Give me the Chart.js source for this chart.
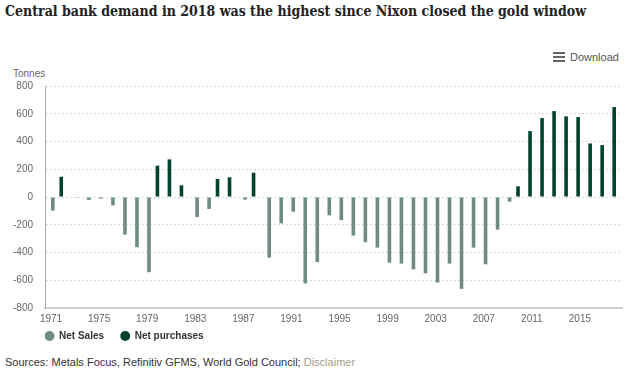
<!DOCTYPE html>
<html>
<head>
<meta charset="utf-8">
<script src="https://cdn.jsdelivr.net/npm/chart.js@4.4.1/dist/chart.umd.min.js"></script>
<style>
  body { margin: 0; background: #fff; width: 640px; height: 375px; position: relative; overflow: hidden; font-family: "Liberation Sans", Arial, sans-serif; }
  #title { position: absolute; left: 5px; top: 3px; font-family: "DejaVu Serif Condensed", "DejaVu Serif", serif; font-stretch: condensed; font-weight: bold; font-size: 14px; color: #222; white-space: nowrap; }
  #download { position: absolute; left: 553px; top: 51px; font-size: 11px; color: #555; }
  #download .ico { display: inline-block; width: 12px; height: 10px; vertical-align: -1px; margin-right: 5px;
    background: linear-gradient(#666 0 2px, transparent 2px 4px, #666 4px 6px, transparent 6px 8px, #666 8px 10px); }
  #unit { position: absolute; left: 13px; top: 68px; font-size: 10px; color: #666; }
  #wrap { position: absolute; left: 0; top: 62px; width: 640px; height: 291px; }
  #src { position: absolute; left: 5px; top: 356px; font-size: 11px; color: #333; }
  #src span { color: #a39d8c; }
</style>
</head>
<body>
<div id="title">Central bank demand in 2018 was the highest since Nixon closed the gold window</div>
<div id="download"><span class="ico"></span>Download</div>
<div id="unit">Tonnes</div>
<div id="wrap"><canvas id="gold"></canvas></div>
<div id="src">Sources: Metals Focus, Refinitiv GFMS, World Gold Council; <span>Disclaimer</span></div>
<script>
const years = [];
for (let y = 1971; y <= 2018; y++) years.push(String(y));

// tonnes, negative = net sales
const netSales = [
  -98, null, -5, -22, -12, -60, -271, -362, -542, null,
  null, null, -144, -86, null, null, -19, null, -437, -190,
  -106, -623, -468, -132, -166, -278, -326, -365, -473, -480,
  -521, -550, -617, -480, -662, -365, -485, -235, -34, null,
  null, null, null, null, null, null, null, null
];
const netPurchases = [
  null, 146, null, null, null, null, null, null, null, 226,
  271, 84, null, null, 130, 142, null, 175, null, null,
  null, null, null, null, null, null, null, null, null, null,
  null, null, null, null, null, null, null, null, null, 77,
  475, 569, 619, 581, 576, 386, 374, 648
];
const yTicks = [-800, 800, 200];

const context = document.getElementById('gold');

const config = {
  type: 'bar',
  data: {
    labels: years,
    datasets: [
      {
        label: 'Net purchases',
        data: netPurchases,
        backgroundColor: '#00432a',
        categoryPercentage: 0.6,
        barPercentage: 1
      },
      {
        label: 'Net Sales',
        data: netSales,
        backgroundColor: '#6f8c7e',
        categoryPercentage: 0.6,
        barPercentage: 1
      }
    ]
  },
  options: {
    responsive: true,
    maintainAspectRatio: false,
    animation: false,
    layout: { padding: { left: 1, right: 18, top: 24, bottom: 2 } },
    plugins: {
      tooltip: { enabled: false },
      legend: {
        position: 'bottom',
        align: 'start',
        fullSize: false,
        labels: {
          usePointStyle: true,
          pointStyle: 'circle',
          boxWidth: 9,
          boxHeight: 7,
          padding: 0,
          color: '#333',
          font: { family: 'Liberation Sans', size: 10, weight: 'bold' },
          // trailing spaces give the gap between the two items
          generateLabels: chart => Chart.defaults.plugins.legend.labels.generateLabels(chart)
            .map(item => Object.assign(item, { text: item.text + '      ' })),
          sort: (a, b) => b.datasetIndex - a.datasetIndex
        }
      }
    },
    scales: {
      x: {
        grid: { display: false, drawTicks: false },
        border: { display: true, color: '#cfcfcf', width: 2 },
        ticks: {
          autoSkip: false,
          maxRotation: 0,
          padding: 7,
          color: '#666',
          font: { family: 'Liberation Sans', size: 10, lineHeight: 0.9 },
          callback: function (v, i) { return i % 4 === 0 ? years[i] : ''; }
        }
      },
      y: {
        min: yTicks[0],
        max: yTicks[1],
        ticks: {
          stepSize: yTicks[2],
          color: '#666',
          padding: 12,
          font: { family: 'Liberation Sans', size: 10 }
        },
        grid: { color: '#d9d9d9', drawTicks: false },
        border: { display: true, color: '#aaa', width: 1, dash: [2, 2] }
      }
    }
  }
};

const goldChart = new Chart(context, config);
</script>
</body>
</html>
